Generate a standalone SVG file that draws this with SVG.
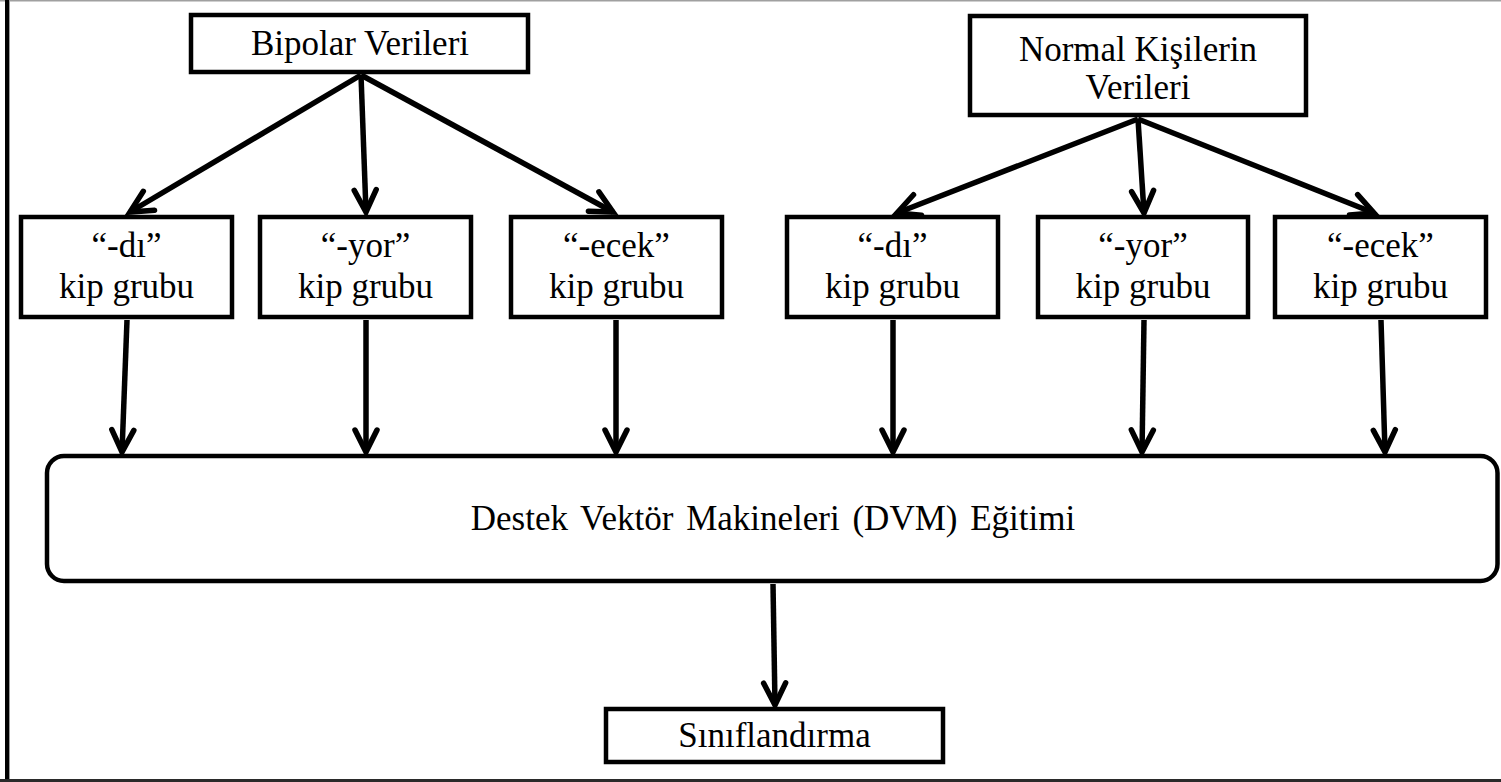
<svg xmlns="http://www.w3.org/2000/svg" width="1501" height="782" viewBox="0 0 1501 782">
  <style>
    .box { fill: #ffffff; stroke: #000000; stroke-width: 4.5; }
    .lbl { font-family: "Liberation Serif", "Times New Roman", serif; font-size: 35px; fill: #000000; text-anchor: middle; }
    .edge { fill: none; stroke: #000000; stroke-width: 5.5; }
  </style>
  <defs>
    <marker id="arrow" markerUnits="userSpaceOnUse" markerWidth="40" markerHeight="40" refX="0" refY="0" viewBox="-30 -20 40 40" orient="auto">
      <path d="M-22,-11 L0,0 L-22,11" fill="none" stroke="#000000" stroke-width="5.5" stroke-linecap="round" stroke-linejoin="miter"/>
    </marker>
  </defs>

  <rect x="0" y="0" width="1501" height="782" fill="#ffffff"/>

  <!-- page frame -->
  <g id="frame">
    <line x1="0" y1="0.75" x2="1501" y2="0.75" stroke="#a0a0a0" stroke-width="1.5"/>
    <line x1="7" y1="0" x2="7" y2="782" stroke="#000000" stroke-width="4"/>
    <line x1="9.5" y1="0" x2="9.5" y2="779" stroke="#9a9a9a" stroke-width="1"/>
    <line x1="0" y1="780.5" x2="1501" y2="780.5" stroke="#2a2a2a" stroke-width="3"/>
  </g>

  <!-- connectors -->
  <g id="connectors">
    <line class="edge" x1="361" y1="75" x2="130" y2="212" marker-end="url(#arrow)"/>
    <line class="edge" x1="361" y1="75" x2="366" y2="212" marker-end="url(#arrow)"/>
    <line class="edge" x1="361" y1="75" x2="613" y2="212" marker-end="url(#arrow)"/>
    <line class="edge" x1="1138" y1="119" x2="897" y2="213" marker-end="url(#arrow)"/>
    <line class="edge" x1="1138" y1="119" x2="1144" y2="213" marker-end="url(#arrow)"/>
    <line class="edge" x1="1138" y1="119" x2="1374" y2="213" marker-end="url(#arrow)"/>
    <line class="edge" x1="127" y1="320" x2="122" y2="452" marker-end="url(#arrow)"/>
    <line class="edge" x1="366" y1="320" x2="366" y2="452" marker-end="url(#arrow)"/>
    <line class="edge" x1="616" y1="320" x2="616" y2="452" marker-end="url(#arrow)"/>
    <line class="edge" x1="893" y1="320" x2="893" y2="452" marker-end="url(#arrow)"/>
    <line class="edge" x1="1144" y1="320" x2="1142" y2="452" marker-end="url(#arrow)"/>
    <line class="edge" x1="1381" y1="320" x2="1385" y2="452" marker-end="url(#arrow)"/>
    <line class="edge" x1="773" y1="584" x2="775" y2="705" marker-end="url(#arrow)"/>
  </g>

  <g id="bipolar">
    <rect class="box" x="191" y="15" width="337" height="57"/>
    <text class="lbl" x="360" y="55">Bipolar Verileri</text>
  </g>

  <g id="normal">
    <rect class="box" x="970" y="16" width="336" height="99"/>
    <text class="lbl" x="1138" y="61" font-size="34">Normal Kişilerin</text>
    <text class="lbl" x="1138" y="99" font-size="34">Verileri</text>
  </g>

  <g id="bp-di">
    <rect class="box" x="21" y="217" width="211" height="100"/>
    <text class="lbl" x="126.5" y="257">“-dı”</text>
    <text class="lbl" x="126.5" y="298">kip grubu</text>
  </g>
  <g id="bp-yor">
    <rect class="box" x="260" y="217" width="211" height="100"/>
    <text class="lbl" x="365.5" y="257">“-yor”</text>
    <text class="lbl" x="365.5" y="298">kip grubu</text>
  </g>
  <g id="bp-ecek">
    <rect class="box" x="511" y="217" width="211" height="100"/>
    <text class="lbl" x="616.5" y="257">“-ecek”</text>
    <text class="lbl" x="616.5" y="298">kip grubu</text>
  </g>

  <g id="nk-di">
    <rect class="box" x="787" y="217" width="211" height="100"/>
    <text class="lbl" x="892.5" y="257">“-dı”</text>
    <text class="lbl" x="892.5" y="298">kip grubu</text>
  </g>
  <g id="nk-yor">
    <rect class="box" x="1038" y="217" width="210" height="100"/>
    <text class="lbl" x="1143" y="257">“-yor”</text>
    <text class="lbl" x="1143" y="298">kip grubu</text>
  </g>
  <g id="nk-ecek">
    <rect class="box" x="1275" y="217" width="211" height="100"/>
    <text class="lbl" x="1380.5" y="257">“-ecek”</text>
    <text class="lbl" x="1380.5" y="298">kip grubu</text>
  </g>

  <g id="dvm">
    <rect class="box" x="47" y="456" width="1450.5" height="125" rx="17" ry="17"/>
    <text class="lbl" x="773" y="530" word-spacing="4">Destek Vektör Makineleri (DVM) Eğitimi</text>
  </g>

  <g id="siniflandirma">
    <rect class="box" x="606" y="709" width="337" height="53"/>
    <text class="lbl" x="774.5" y="747">Sınıflandırma</text>
  </g>
</svg>
